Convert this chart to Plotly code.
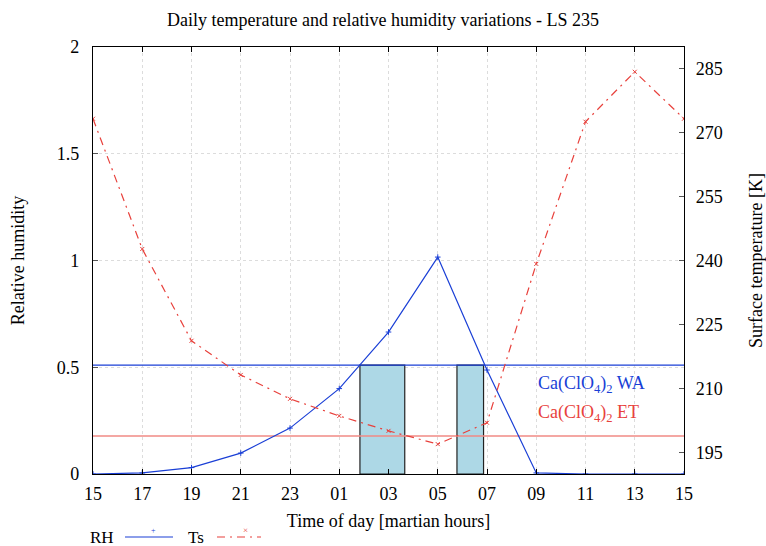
import plotly.graph_objects as go

# ---- data ----
hour_labels = ["15", "17", "19", "21", "23", "01", "03", "05", "07", "09", "11", "13", "15"]
hour_index = list(range(len(hour_labels)))
rh_values = [0.0, 0.005, 0.03, 0.098, 0.215, 0.40, 0.665, 1.016, 0.487, 0.005, 0.0, 0.0, 0.0]
ts_values = [273.2, 242.7, 221.2, 213.2, 207.6, 203.6, 200.1, 197.0, 202.0, 239.2, 272.5, 284.2, 273.2]
wa_threshold = 0.51   # Ca(ClO4)2 WA (relative humidity)
et_threshold = 0.178  # Ca(ClO4)2 ET (relative humidity)
window_starts = [5.42, 7.39]
window_ends = [6.33, 7.93]
rh_ticks = [0, 0.5, 1, 1.5, 2]
rh_tick_text = ["0", "0.5", "1", "1.5", "2"]
ts_ticks = [195, 210, 225, 240, 255, 270, 285]

BLUE = "#1a3fd6"
RED = "#e8413c"
RED_LINE = "#f08a84"
FONT = "Liberation Serif"
GRID = "#dcdcdc"

W, H = 766, 546
L, R, T, B = 93, 82, 47, 72
PW, PH = W - L - R, H - T - B


def px(x):
    return (x - L) / PW


def py(y):
    return (H - B - y) / PH


fig = go.Figure()

# liquid-water windows
for a, b in zip(window_starts, window_ends):
    fig.add_trace(go.Scatter(
        x=[a, a, b, b, a], y=[0, wa_threshold, wa_threshold, 0, 0],
        mode="lines", fill="toself", fillcolor="#add8e6",
        line=dict(color="#222222", width=1.2), showlegend=False, hoverinfo="skip"))

# thresholds
fig.add_trace(go.Scatter(x=[hour_index[0], hour_index[-1]], y=[wa_threshold, wa_threshold],
                         mode="lines", line=dict(color=BLUE, width=1.2), showlegend=False))
fig.add_trace(go.Scatter(x=[hour_index[0], hour_index[-1]], y=[et_threshold, et_threshold],
                         mode="lines", line=dict(color=RED_LINE, width=1.5), showlegend=False))

# RH
fig.add_trace(go.Scatter(x=hour_index, y=rh_values, mode="lines+markers", name="RH",
                         line=dict(color=BLUE, width=1.2),
                         marker=dict(symbol="cross-thin", size=4, line=dict(color=BLUE, width=1)),
                         showlegend=False))
# Ts
fig.add_trace(go.Scatter(x=hour_index, y=ts_values, mode="lines+markers", name="Ts", yaxis="y2",
                         line=dict(color=RED, width=1.2, dash="8px,5px,2px,5px"),
                         marker=dict(symbol="x-thin", size=4, line=dict(color=RED, width=1)),
                         showlegend=False))

fig.update_layout(
    width=W, height=H,
    margin=dict(l=L, r=R, t=T, b=B, autoexpand=False),
    paper_bgcolor="white", plot_bgcolor="white",
    font=dict(family=FONT, size=18, color="black"),
    title=dict(text="Daily temperature and relative humidity variations - LS 235",
               x=0.5, xanchor="center", y=1 - 20 / H, yanchor="middle",
               font=dict(family=FONT, size=18)),
    xaxis=dict(range=[0, 12], tickvals=hour_index, ticktext=hour_labels,
               ticks="inside", ticklen=5, tickcolor="black", mirror="ticks",
               showline=True, linecolor="black", linewidth=1.3, automargin=False,
               showgrid=True, gridcolor=GRID, griddash="dot", gridwidth=1,
               zeroline=False, tickfont=dict(size=18), ticklabelstandoff=3,
               title=dict(text="Time of day [martian hours]", standoff=11, font=dict(size=18))),
    yaxis=dict(range=[0, 2], tickvals=rh_ticks, ticktext=rh_tick_text,
               ticks="inside", ticklen=5, tickcolor="#555555",
               showline=True, linecolor="black", linewidth=1.3, automargin=False,
               showgrid=True, gridcolor=GRID, griddash="dot", gridwidth=1,
               zeroline=False, tickfont=dict(size=18), ticklabelstandoff=9,
               title=dict(text="Relative humidity", standoff=27, font=dict(size=18))),
    yaxis2=dict(range=[190, 290], tickvals=ts_ticks, overlaying="y", side="right",
                ticks="inside", ticklen=5, tickcolor="#555555",
                showline=True, linecolor="black", linewidth=1.3, automargin=False,
                showgrid=False, zeroline=False, tickfont=dict(size=18), ticklabelstandoff=7,
                title=dict(text="Surface temperature [K]", standoff=29, font=dict(size=18))),
)

# threshold labels
fig.add_annotation(x=px(536), y=py(384), xref="paper", yref="paper",
                   text="Ca(ClO<sub>4</sub>)<sub>2</sub> WA", showarrow=False,
                   xanchor="left", yanchor="middle", font=dict(color=BLUE, size=18))
fig.add_annotation(x=px(536), y=py(413), xref="paper", yref="paper",
                   text="Ca(ClO<sub>4</sub>)<sub>2</sub> ET", showarrow=False,
                   xanchor="left", yanchor="middle", font=dict(color=RED, size=18))

# manual legend (text left of sample, gnuplot style)
ly = py(537)
fig.add_annotation(x=px(116), y=ly, xref="paper", yref="paper", text="RH",
                   showarrow=False, xanchor="right", yanchor="middle", font=dict(size=17))
fig.add_shape(type="line", xref="paper", yref="paper", x0=px(125), x1=px(173),
              y0=ly, y1=ly, line=dict(color=BLUE, width=1.2))
fig.add_annotation(x=px(149), y=ly, xref="paper", yref="paper", text="+",
                   showarrow=False, font=dict(size=8, color=BLUE))
fig.add_annotation(x=px(206), y=ly, xref="paper", yref="paper", text="Ts",
                   showarrow=False, xanchor="right", yanchor="middle", font=dict(size=17))
fig.add_shape(type="line", xref="paper", yref="paper", x0=px(217), x1=px(261),
              y0=ly, y1=ly, line=dict(color=RED, width=1.2, dash="8px,5px,2px,5px"))
fig.add_annotation(x=px(241), y=ly, xref="paper", yref="paper", text="×",
                   showarrow=False, font=dict(size=9, color=RED))

fig.write_html("out.html", config={"displayModeBar": False},
               post_script="document.body.style.margin='0';")
